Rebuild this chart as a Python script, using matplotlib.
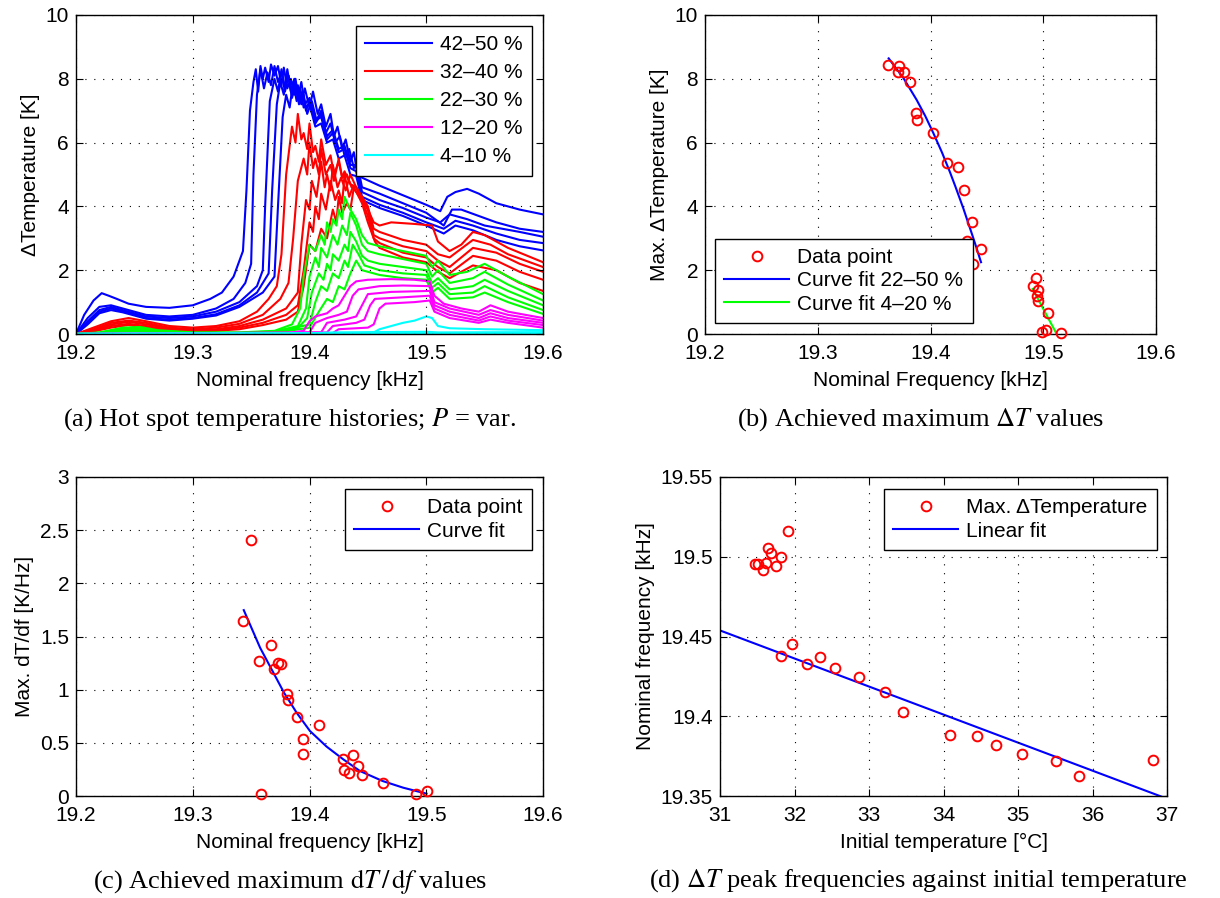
import matplotlib
matplotlib.use('Agg')
import matplotlib.pyplot as plt
from matplotlib.ticker import FuncFormatter

plt.rcParams['font.family'] = ['Liberation Sans', 'DejaVu Sans']
plt.rcParams['mathtext.fontset'] = 'stix'

# ---------------- Panel (a): hot spot temperature histories ----------------
group_labels = ['42\u201350 %', '32\u201340 %', '22\u201330 %', '12\u201320 %', '4\u201310 %']
group_colors = ['#0000ff', '#ff0000', '#00ff00', '#ff00ff', '#00ffff']

blue_curves = [
    [(19.200, 0.0), (19.207, 0.6), (19.215, 1.05), (19.222, 1.28), (19.228, 1.2), (19.235, 1.1), (19.245, 0.95),
     (19.26, 0.85), (19.28, 0.82), (19.30, 0.9), (19.315, 1.1), (19.325, 1.3), (19.335, 1.8), (19.340, 2.3),
     (19.343, 2.6), (19.346, 4.5), (19.349, 7.0), (19.352, 7.9), (19.354, 8.3), (19.356, 7.6), (19.358, 8.4),
     (19.36, 8.0), (19.362, 8.35), (19.365, 7.9), (19.367, 8.45), (19.37, 8.1), (19.373, 8.4), (19.376, 7.8),
     (19.378, 8.35), (19.381, 7.7), (19.384, 8.0), (19.387, 7.5), (19.39, 7.8), (19.393, 7.2), (19.396, 7.7),
     (19.40, 7.1), (19.403, 7.6), (19.407, 6.9), (19.41, 7.2), (19.414, 6.5), (19.418, 6.9), (19.421, 6.2),
     (19.424, 6.5), (19.428, 5.8), (19.431, 6.1), (19.435, 5.4), (19.438, 5.7), (19.441, 5.0), (19.443, 5.2),
     (19.445, 4.9), (19.46, 4.65), (19.48, 4.35), (19.50, 4.05), (19.512, 3.85), (19.518, 4.3), (19.525, 4.45),
     (19.535, 4.55), (19.545, 4.4), (19.56, 4.1), (19.58, 3.9), (19.60, 3.75)],
    [(19.2, 0.0), (19.21, 0.5), (19.22, 0.85), (19.23, 0.9), (19.24, 0.8), (19.26, 0.6), (19.28, 0.55), (19.30, 0.6),
     (19.32, 0.8), (19.335, 1.1), (19.345, 1.6), (19.350, 2.2), (19.352, 5.0), (19.355, 7.5), (19.358, 8.3),
     (19.361, 7.7), (19.364, 8.2), (19.367, 7.8), (19.370, 8.4), (19.373, 7.9), (19.376, 8.2), (19.379, 7.6),
     (19.382, 8.1), (19.385, 7.4), (19.388, 7.8), (19.391, 7.2), (19.395, 7.5), (19.398, 6.9), (19.402, 7.3),
     (19.406, 6.7), (19.41, 7.0), (19.414, 6.3), (19.418, 6.6), (19.422, 6.0), (19.426, 6.2), (19.43, 5.6),
     (19.434, 5.8), (19.438, 5.2), (19.441, 5.3), (19.445, 4.6), (19.46, 4.4), (19.48, 4.1),
     (19.50, 3.8), (19.515, 3.4), (19.522, 3.9), (19.53, 3.9), (19.545, 3.7), (19.56, 3.5), (19.58, 3.3), (19.60, 3.2)],
    [(19.2, 0.0), (19.21, 0.4), (19.22, 0.75), (19.23, 0.85), (19.24, 0.75), (19.26, 0.55), (19.28, 0.5), (19.30, 0.55),
     (19.32, 0.7), (19.34, 1.0), (19.355, 1.5), (19.360, 2.0), (19.362, 4.0), (19.366, 7.3), (19.37, 8.0),
     (19.373, 7.6), (19.376, 8.3), (19.379, 7.7), (19.382, 8.1), (19.385, 7.5), (19.388, 8.0), (19.391, 7.3),
     (19.394, 7.6), (19.397, 7.0), (19.40, 7.3), (19.405, 6.6), (19.41, 6.9), (19.415, 6.2), (19.42, 6.4),
     (19.425, 5.8), (19.43, 5.9), (19.435, 5.3), (19.44, 5.3), (19.445, 4.45), (19.46, 4.2), (19.48, 3.95),
     (19.50, 3.65), (19.512, 3.5), (19.52, 3.75), (19.535, 3.6), (19.55, 3.4), (19.58, 3.2), (19.60, 3.05)],
    [(19.2, 0.0), (19.21, 0.35), (19.22, 0.7), (19.23, 0.8), (19.24, 0.72), (19.26, 0.5), (19.28, 0.45), (19.30, 0.5),
     (19.32, 0.62), (19.34, 0.9), (19.355, 1.3), (19.365, 1.9), (19.368, 4.5), (19.372, 7.2), (19.375, 7.9),
     (19.378, 7.5), (19.381, 8.3), (19.384, 7.6), (19.387, 8.0), (19.39, 7.4), (19.393, 7.9), (19.396, 7.2),
     (19.40, 7.4), (19.405, 6.7), (19.41, 6.8), (19.415, 6.1), (19.42, 6.3), (19.425, 5.7), (19.43, 5.8),
     (19.435, 5.2), (19.44, 5.1), (19.445, 4.3), (19.46, 4.05), (19.48, 3.8), (19.50, 3.5), (19.515, 3.3),
     (19.525, 3.55), (19.54, 3.4), (19.56, 3.15), (19.58, 2.95), (19.60, 2.85)],
    [(19.2, 0.0), (19.21, 0.3), (19.22, 0.65), (19.23, 0.75), (19.24, 0.68), (19.26, 0.48), (19.28, 0.42), (19.30, 0.48),
     (19.32, 0.58), (19.34, 0.85), (19.36, 1.3), (19.37, 1.8), (19.373, 4.0), (19.377, 6.8), (19.38, 7.5),
     (19.383, 7.1), (19.386, 7.9), (19.389, 7.3), (19.392, 7.7), (19.395, 7.1), (19.40, 7.2), (19.405, 6.5),
     (19.41, 6.6), (19.415, 6.0), (19.42, 6.1), (19.425, 5.5), (19.43, 5.6), (19.435, 5.0), (19.44, 4.95),
     (19.445, 4.2), (19.46, 3.95), (19.48, 3.7), (19.50, 3.4), (19.515, 3.15), (19.525, 3.4), (19.54, 3.25),
     (19.56, 2.95), (19.58, 2.75), (19.60, 2.62)],
]

red_curves = [
    [(19.2, 0.0), (19.215, 0.2), (19.23, 0.4), (19.245, 0.5), (19.26, 0.4), (19.28, 0.25), (19.30, 0.2), (19.32, 0.25),
     (19.34, 0.4), (19.355, 0.7), (19.365, 1.1), (19.372, 1.5), (19.376, 2.5), (19.38, 5.0), (19.385, 6.5),
     (19.388, 6.0), (19.39, 6.9), (19.393, 6.1), (19.395, 6.3), (19.398, 5.8), (19.40, 6.6), (19.403, 5.7),
     (19.405, 5.9), (19.408, 5.4), (19.41, 6.1), (19.414, 5.3), (19.418, 5.6), (19.421, 5.0), (19.425, 5.4),
     (19.428, 4.9), (19.43, 5.1), (19.435, 4.7), (19.44, 4.6), (19.45, 3.9), (19.455, 3.5), (19.46, 3.4),
     (19.47, 3.5), (19.49, 3.45), (19.505, 3.4), (19.51, 2.9), (19.52, 2.6), (19.53, 2.8), (19.54, 3.2),
     (19.55, 3.1), (19.57, 2.7), (19.60, 2.25)],
    [(19.2, 0.0), (19.215, 0.15), (19.23, 0.35), (19.245, 0.42), (19.26, 0.35), (19.28, 0.2), (19.30, 0.15), (19.32, 0.2),
     (19.34, 0.32), (19.36, 0.6), (19.375, 1.1), (19.382, 1.6), (19.386, 3.0), (19.39, 4.8), (19.395, 5.5),
     (19.398, 5.0), (19.40, 6.0), (19.403, 5.2), (19.405, 5.5), (19.408, 5.0), (19.41, 5.8), (19.414, 5.0),
     (19.418, 5.3), (19.421, 4.8), (19.425, 5.5), (19.428, 4.9), (19.432, 5.0), (19.436, 4.6), (19.44, 4.6),
     (19.45, 4.0), (19.455, 3.3), (19.46, 3.2), (19.48, 2.95), (19.50, 2.8), (19.51, 2.5), (19.52, 2.4),
     (19.54, 2.95), (19.555, 2.8), (19.57, 2.5), (19.60, 2.1)],
    [(19.2, 0.0), (19.215, 0.12), (19.23, 0.3), (19.245, 0.38), (19.26, 0.3), (19.28, 0.18), (19.30, 0.12), (19.32, 0.15),
     (19.34, 0.25), (19.36, 0.45), (19.38, 0.8), (19.39, 1.3), (19.393, 2.8), (19.397, 4.2), (19.40, 3.9),
     (19.402, 4.8), (19.406, 4.3), (19.41, 5.4), (19.413, 4.6), (19.415, 5.0), (19.418, 4.5), (19.42, 5.3),
     (19.424, 4.6), (19.427, 4.9), (19.431, 4.5), (19.435, 5.0), (19.44, 4.6), (19.45, 3.9),
     (19.455, 3.1), (19.46, 3.0), (19.48, 2.75), (19.50, 2.6), (19.51, 2.3), (19.52, 2.1), (19.54, 2.7),
     (19.56, 2.55), (19.58, 2.2), (19.60, 1.95)],
    [(19.2, 0.0), (19.215, 0.1), (19.23, 0.25), (19.245, 0.32), (19.26, 0.25), (19.28, 0.14), (19.30, 0.1), (19.32, 0.12),
     (19.34, 0.2), (19.36, 0.35), (19.38, 0.6), (19.39, 0.9), (19.395, 2.0), (19.40, 3.5), (19.403, 3.2),
     (19.405, 4.0), (19.408, 3.6), (19.41, 4.4), (19.414, 3.9), (19.418, 4.8), (19.422, 4.2), (19.425, 4.5),
     (19.428, 4.1), (19.43, 5.0), (19.434, 4.3), (19.437, 4.6), (19.445, 4.2), (19.45, 3.7),
     (19.455, 3.0), (19.46, 2.85), (19.48, 2.55), (19.50, 2.4), (19.51, 2.1), (19.52, 1.9), (19.54, 2.45),
     (19.56, 2.3), (19.58, 1.95), (19.60, 1.7)],
    [(19.2, 0.0), (19.215, 0.08), (19.23, 0.2), (19.245, 0.28), (19.26, 0.2), (19.28, 0.1), (19.30, 0.08), (19.32, 0.1),
     (19.34, 0.15), (19.36, 0.28), (19.38, 0.45), (19.39, 0.7), (19.395, 1.5), (19.40, 2.8), (19.405, 2.6),
     (19.41, 3.3), (19.415, 3.0), (19.42, 3.9), (19.423, 3.5), (19.425, 4.3), (19.428, 3.8), (19.432, 4.1),
     (19.435, 3.9), (19.438, 4.6), (19.445, 4.1), (19.45, 3.5), (19.456, 2.9),
     (19.46, 2.7), (19.48, 2.4), (19.50, 2.25), (19.51, 1.95), (19.52, 1.75), (19.54, 2.15), (19.56, 2.0),
     (19.58, 1.6), (19.60, 1.35)],
]

green_curves = [
    [(19.2, 0.0), (19.22, 0.05), (19.24, 0.2), (19.255, 0.22), (19.27, 0.12), (19.30, 0.05), (19.34, 0.05), (19.37, 0.1),
     (19.385, 0.3), (19.392, 0.8), (19.395, 1.8), (19.40, 2.8), (19.405, 2.6), (19.41, 3.1), (19.413, 2.8),
     (19.415, 3.5), (19.418, 3.2), (19.42, 3.6), (19.423, 3.4), (19.425, 3.9), (19.428, 3.6), (19.43, 4.3),
     (19.435, 3.9), (19.44, 3.6), (19.445, 3.1), (19.45, 2.85), (19.46, 2.75),
     (19.48, 2.6), (19.50, 2.45), (19.505, 2.1), (19.51, 2.3), (19.52, 1.85), (19.535, 1.95), (19.55, 2.2),
     (19.57, 1.8), (19.60, 1.25)],
    [(19.2, 0.0), (19.22, 0.04), (19.24, 0.16), (19.255, 0.18), (19.27, 0.1), (19.30, 0.04), (19.34, 0.04), (19.37, 0.08),
     (19.39, 0.25), (19.397, 0.8), (19.40, 1.8), (19.405, 2.4), (19.408, 2.1), (19.41, 2.7), (19.415, 2.4),
     (19.42, 3.1), (19.424, 2.8), (19.428, 3.4), (19.432, 3.1), (19.435, 3.8), (19.44, 3.4), (19.445, 2.8),
     (19.45, 2.6), (19.46, 2.5), (19.48, 2.35), (19.50, 2.2),
     (19.505, 1.8), (19.51, 2.0), (19.52, 1.6), (19.54, 1.75), (19.55, 1.95), (19.57, 1.55), (19.60, 1.05)],
    [(19.2, 0.0), (19.22, 0.03), (19.24, 0.12), (19.255, 0.14), (19.27, 0.08), (19.30, 0.03), (19.34, 0.03), (19.37, 0.06),
     (19.39, 0.18), (19.398, 0.5), (19.402, 1.3), (19.408, 1.9), (19.412, 1.7), (19.415, 2.2), (19.418, 2.0),
     (19.42, 2.5), (19.425, 2.3), (19.43, 2.8), (19.433, 2.6),
     (19.435, 3.2), (19.44, 2.9), (19.445, 2.45), (19.45, 2.3), (19.46, 2.2), (19.48, 2.1), (19.50, 2.0),
     (19.505, 1.6), (19.51, 1.75), (19.52, 1.4), (19.54, 1.5), (19.55, 1.7), (19.57, 1.35), (19.60, 0.9)],
    [(19.2, 0.0), (19.22, 0.02), (19.24, 0.1), (19.255, 0.11), (19.27, 0.06), (19.30, 0.02), (19.37, 0.04),
     (19.40, 0.3), (19.405, 1.0), (19.41, 1.5), (19.415, 1.35), (19.42, 1.9), (19.425, 1.75), (19.43, 2.3),
     (19.433, 2.1), (19.437, 2.8), (19.442, 2.5),
     (19.447, 2.15), (19.46, 2.0), (19.48, 1.9), (19.50, 1.85), (19.505, 1.45), (19.51, 1.6), (19.52, 1.25),
     (19.54, 1.3), (19.55, 1.5), (19.57, 1.15), (19.60, 0.75)],
    [(19.2, 0.0), (19.22, 0.02), (19.24, 0.08), (19.255, 0.09), (19.27, 0.05), (19.30, 0.02), (19.37, 0.03),
     (19.40, 0.2), (19.408, 0.7), (19.415, 1.1), (19.42, 1.0), (19.425, 1.5), (19.43, 1.4), (19.435, 1.9),
     (19.44, 2.3), (19.445, 2.0),
     (19.45, 1.95), (19.46, 1.85), (19.48, 1.75), (19.50, 1.7), (19.505, 1.3), (19.51, 1.45), (19.52, 1.1),
     (19.54, 1.15), (19.55, 1.3), (19.57, 1.0), (19.60, 0.63)],
]

magenta_curves = [
    [(19.2, 0.0), (19.38, 0.02), (19.395, 0.1), (19.40, 0.4), (19.405, 0.55), (19.415, 0.65), (19.42, 0.8),
     (19.425, 0.9), (19.43, 1.2), (19.435, 1.5), (19.44, 1.65), (19.45, 1.7), (19.47, 1.72), (19.49, 1.7),
     (19.503, 1.65), (19.507, 1.2), (19.515, 0.95), (19.53, 0.8), (19.545, 0.7), (19.555, 0.9), (19.57, 0.7),
     (19.60, 0.5)],
    [(19.2, 0.0), (19.39, 0.02), (19.40, 0.05), (19.405, 0.35), (19.415, 0.5), (19.425, 0.6), (19.432, 0.7),
     (19.437, 1.2), (19.442, 1.4), (19.46, 1.5), (19.48, 1.52), (19.503, 1.5), (19.507, 1.0), (19.52, 0.8),
     (19.545, 0.6), (19.555, 0.75), (19.57, 0.6), (19.60, 0.42)],
    [(19.2, 0.0), (19.41, 0.05), (19.415, 0.35), (19.43, 0.45), (19.44, 0.55), (19.445, 0.9), (19.45, 1.25),
     (19.47, 1.32), (19.503, 1.35), (19.507, 0.9), (19.52, 0.7), (19.545, 0.5), (19.555, 0.65), (19.57, 0.5),
     (19.60, 0.35)],
    [(19.2, 0.0), (19.415, 0.05), (19.42, 0.25), (19.44, 0.35), (19.447, 0.45), (19.452, 0.9), (19.456, 1.1),
     (19.48, 1.15), (19.503, 1.2), (19.507, 0.8), (19.52, 0.6), (19.545, 0.42), (19.555, 0.55), (19.57, 0.42),
     (19.60, 0.28)],
    [(19.2, 0.0), (19.42, 0.03), (19.425, 0.15), (19.45, 0.2), (19.455, 0.3), (19.46, 0.8), (19.465, 0.95),
     (19.49, 1.0), (19.503, 1.05), (19.507, 0.7), (19.52, 0.5), (19.545, 0.35), (19.555, 0.45), (19.57, 0.35),
     (19.60, 0.2)],
]

cyan_curves = [
    [(19.2, 0.0), (19.44, 0.02), (19.455, 0.05), (19.46, 0.15), (19.47, 0.25), (19.48, 0.35), (19.49, 0.42),
     (19.50, 0.55), (19.505, 0.5), (19.51, 0.25), (19.52, 0.18), (19.55, 0.15), (19.60, 0.12)],
    [(19.2, 0.0), (19.40, 0.02), (19.42, 0.05), (19.50, 0.07), (19.51, 0.05), (19.60, 0.06)],
    [(19.2, 0.01), (19.45, 0.02), (19.60, 0.03)],
    [(19.2, 0.0), (19.60, 0.01)],
]

# ---------------- Panel (b): achieved maximum dT ----------------
b_freq = [19.3626, 19.3724, 19.3710, 19.3765, 19.3818, 19.3871, 19.3877, 19.4025, 19.4150, 19.4240,
          19.4300, 19.4368, 19.4327, 19.4450, 19.4374, 19.4939, 19.4906, 19.4950, 19.4942, 19.4950,
          19.5045, 19.4986, 19.5020, 19.5154]
b_dT = [8.43, 8.40, 8.20, 8.22, 7.91, 6.94, 6.72, 6.30, 5.36, 5.24,
        4.50, 3.51, 2.91, 2.65, 2.19, 1.77, 1.50, 1.39, 1.20, 1.02,
        0.65, 0.07, 0.13, 0.04]
b_fit_hi_f = [19.3629, 19.3759, 19.3877, 19.3954, 19.4025, 19.4102, 19.4173, 19.4220, 19.4291, 19.4367, 19.4409, 19.4448]
b_fit_hi_T = [8.64, 8.03, 7.34, 6.83, 6.30, 5.69, 5.07, 4.63, 3.94, 3.14, 2.69, 2.25]
b_fit_lo_f = [19.4906, 19.5119]
b_fit_lo_T = [1.41, 0.0]

# ---------------- Panel (c): achieved maximum dT/df ----------------
c_freq = [19.3497, 19.3434, 19.3668, 19.3568, 19.3733, 19.3759, 19.3696, 19.3805, 19.3816, 19.3890,
          19.4084, 19.3944, 19.3944, 19.3585, 19.4284, 19.4369, 19.4298, 19.4335, 19.4412, 19.4449,
          19.4626, 19.4908, 19.5010]
c_dTdf = [2.405, 1.644, 1.416, 1.265, 1.253, 1.237, 1.196, 0.955, 0.902, 0.745,
          0.667, 0.532, 0.398, 0.022, 0.351, 0.382, 0.241, 0.219, 0.282, 0.197,
          0.119, 0.022, 0.047]
c_fit_f = [19.3437, 19.3577, 19.3691, 19.3782, 19.3890, 19.4004, 19.4147, 19.4289, 19.4432, 19.4626, 19.4803, 19.5002]
c_fit_v = [1.748, 1.394, 1.159, 0.971, 0.783, 0.611, 0.464, 0.345, 0.235, 0.141, 0.078, 0.022]

# ---------------- Panel (d): peak frequency vs initial temperature ----------------
d_temp = [31.908, 31.644, 31.689, 31.818, 31.469, 31.505, 31.613, 31.747, 31.572, 31.966,
          31.818, 32.346, 32.167, 32.547, 32.869, 33.209, 33.450, 34.085, 34.456, 34.711,
          35.051, 35.511, 35.824, 36.808]
d_freq = [19.5161, 19.5056, 19.5021, 19.4996, 19.4954, 19.4954, 19.4962, 19.4944, 19.4916, 19.4456,
          19.4379, 19.4372, 19.4328, 19.4301, 19.4243, 19.4153, 19.4027, 19.3881, 19.3877, 19.3820,
          19.3764, 19.3718, 19.3628, 19.3724]
d_fit_temp = [31.0, 37.0]
d_fit_freq = [19.4538, 19.3483]

FS = 15
W, H = 1220, 898
fig = plt.figure(figsize=(W / 100, H / 100), dpi=100)


def axes_px(l, r, t, b):
    return fig.add_axes([l / W, 1 - b / H, (r - l) / W, (b - t) / H])


def style(ax):
    ax.tick_params(direction='in', top=True, right=True, length=5, width=0.8, labelsize=FS)
    ax.tick_params(axis='x', pad=7)
    ax.tick_params(axis='y', pad=5)
    ax.grid(True, linestyle=(0, (1, 7)), color='k', linewidth=0.8)
    for s in ax.spines.values():
        s.set_linewidth(1.0)
        s.set_color('k')
    ax.set_axisbelow(False)
    ax.xaxis.set_major_formatter(FuncFormatter(lambda v, p: '%g' % round(v, 4)))
    ax.yaxis.set_major_formatter(FuncFormatter(lambda v, p: '%g' % round(v, 4)))


leg_kw = dict(fontsize=FS, frameon=True, fancybox=False, edgecolor='k', framealpha=1,
              borderaxespad=0, handletextpad=0.4, borderpad=0.45)

# (a)
ax = axes_px(76, 543, 15, 334)
handles = []
for curves, col, lab in zip([blue_curves, red_curves, green_curves, magenta_curves, cyan_curves],
                            group_colors, group_labels):
    for i, cv in enumerate(curves):
        xs = [p[0] for p in cv]
        ys = [p[1] for p in cv]
        ln, = ax.plot(xs, ys, color=col, lw=1.5)
        if i == 0:
            handles.append(ln)
ax.set_xlim(19.2, 19.6)
ax.set_ylim(0, 10)
ax.set_xticks([19.2, 19.3, 19.4, 19.5, 19.6])
ax.set_yticks(range(0, 11, 2))
style(ax)
ax.set_xlabel('Nominal frequency [kHz]', fontsize=FS, labelpad=6)
ax.set_ylabel('\u0394Temperature [K]', fontsize=FS)
ax.legend(handles, group_labels, loc='upper right', bbox_to_anchor=(0.9764, 0.9655),
          handlelength=3.2, labelspacing=0.43, **leg_kw)

# (b)
ax = axes_px(705, 1156, 15, 334)
ax.plot(b_freq, b_dT, 'o', mfc='none', mec='#ff0000', mew=1.4, ms=7, clip_on=False, label='Data point', zorder=4)
ax.plot(b_fit_hi_f, b_fit_hi_T, color='#0000ff', lw=1.5, label='Curve fit 22\u201350 %')
ax.plot(b_fit_lo_f, b_fit_lo_T, color='#00ff00', lw=1.5, label='Curve fit 4\u201320 %')
ax.set_xlim(19.2, 19.6)
ax.set_ylim(0, 10)
ax.set_xticks([19.2, 19.3, 19.4, 19.5, 19.6])
ax.set_yticks(range(0, 11, 2))
style(ax)
ax.set_xlabel('Nominal Frequency [kHz]', fontsize=FS, labelpad=6)
ax.set_ylabel('Max. \u0394Temperature [K]', fontsize=FS)
ax.legend(loc='lower left', bbox_to_anchor=(0.0222, 0.0345), handlelength=3.1, numpoints=1,
          labelspacing=0.2, **leg_kw)

# (c)
ax = axes_px(76, 543, 477, 796)
ax.plot(c_freq, c_dTdf, 'o', mfc='none', mec='#ff0000', mew=1.4, ms=7, clip_on=False, label='Data point', zorder=4)
ax.plot(c_fit_f, c_fit_v, color='#0000ff', lw=1.5, label='Curve fit')
ax.set_xlim(19.2, 19.6)
ax.set_ylim(0, 3)
ax.set_xticks([19.2, 19.3, 19.4, 19.5, 19.6])
ax.set_yticks([0, 0.5, 1, 1.5, 2, 2.5, 3])
style(ax)
ax.set_xlabel('Nominal frequency [kHz]', fontsize=FS, labelpad=6)
ax.set_ylabel('Max. dT/df [K/Hz]', fontsize=FS)
ax.legend(loc='upper right', bbox_to_anchor=(0.9764, 0.9624), handlelength=3.1, numpoints=1,
          labelspacing=0.2, **leg_kw)

# (d)
ax = axes_px(720, 1167, 477, 796)
ax.plot(d_temp, d_freq, 'o', mfc='none', mec='#ff0000', mew=1.4, ms=7, clip_on=False,
        label='Max. \u0394Temperature', zorder=4)
ax.plot(d_fit_temp, d_fit_freq, color='#0000ff', lw=1.5, label='Linear fit')
ax.set_xlim(31, 37)
ax.set_ylim(19.35, 19.55)
ax.set_xticks(range(31, 38))
ax.set_yticks([19.35, 19.40, 19.45, 19.50, 19.55])
style(ax)
ax.set_xlabel('Initial temperature [\u00b0C]', fontsize=FS, labelpad=6)
ax.set_ylabel('Nominal frequency [kHz]', fontsize=FS)
ax.legend(loc='upper right', bbox_to_anchor=(0.9776, 0.9624), handlelength=3.1, numpoints=1,
          labelspacing=0.2, **leg_kw)

# captions
cap_kw = dict(family='Liberation Serif', fontsize=19, ha='center', va='center')
fig.text(290 / W, 1 - 420 / H, r'(a) Hot spot temperature histories; $P$ = var.', **cap_kw)
fig.text(921 / W, 1 - 420 / H, r'(b) Achieved maximum $\Delta T$ values', **cap_kw)
fig.text(290 / W, 1 - 881 / H, r'(c) Achieved maximum $\mathrm{d}T\,/\,\mathrm{d}f$ values', **cap_kw)
fig.text(918 / W, 1 - 881 / H, r'(d) $\Delta T$ peak frequencies against initial temperature', **cap_kw)

fig.savefig('out.png', dpi=100)
